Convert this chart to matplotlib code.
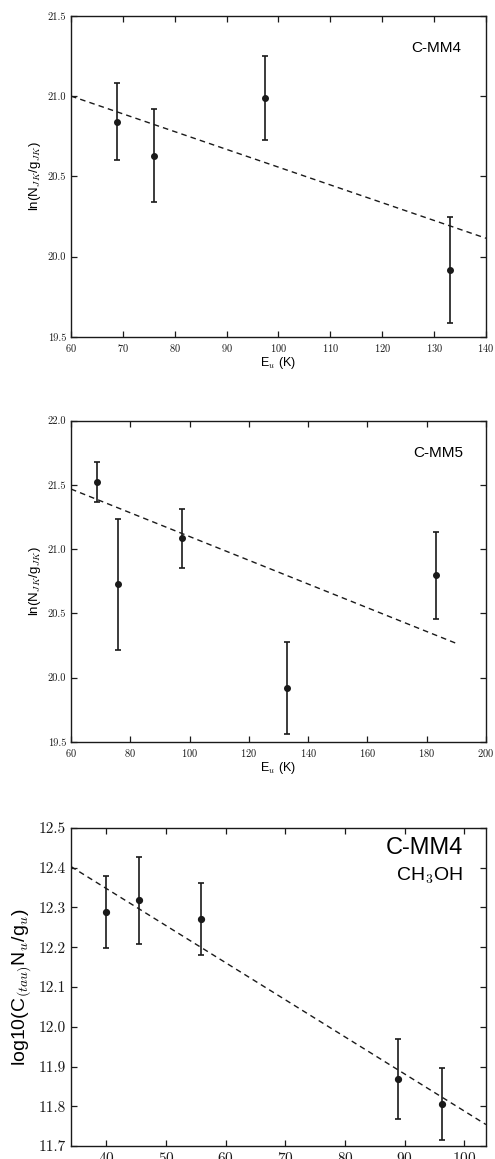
import matplotlib
matplotlib.use('Agg')
import matplotlib.pyplot as plt

plt.rcParams['font.family'] = ['Liberation Sans', 'DejaVu Sans']
plt.rcParams['mathtext.fontset'] = 'cm'
plt.rcParams['axes.formatter.use_mathtext'] = True

# panel 1: rotation diagram, C-MM4
eu_mm4 = [68.8, 76.0, 97.4, 133.1]
ln_mm4 = [20.84, 20.63, 20.987, 19.92]
err_mm4 = [0.24, 0.29, 0.26, 0.33]
fit_x_mm4 = [60, 140]
fit_y_mm4 = [21.0, 20.115]

# panel 2: C-MM5
eu_mm5 = [68.7, 75.9, 97.4, 133.0, 183.1]
ln_mm5 = [21.52, 20.725, 21.086, 19.92, 20.795]
err_mm5 = [0.155, 0.51, 0.23, 0.36, 0.34]
fit_x_mm5 = [60, 190]
fit_y_mm5 = [21.468, 20.266]

# panel 3: CH3OH, C-MM4
eu_ch3oh = [39.9, 45.5, 55.8, 88.8, 96.3]
log_ch3oh = [12.288, 12.318, 12.271, 11.869, 11.806]
err_ch3oh = [0.09, 0.11, 0.09, 0.10, 0.09]
fit_x_ch3oh = [34.1, 103.6]
fit_y_ch3oh = [12.403, 11.754]

dark = '#1a1a1a'


def style_axes(ax, ticksize):
    ax.tick_params(direction='in', top=True, right=True, length=4,
                   width=0.9, labelsize=ticksize, colors=dark)
    for lbl in ax.get_xticklabels() + ax.get_yticklabels():
        lbl.set_fontfamily('cmr10')
    for sp in ax.spines.values():
        sp.set_linewidth(1.0)
        sp.set_color(dark)


def draw(ax, x, y, err, fx, fy, ms):
    ax.errorbar(x, y, yerr=err, fmt='o', color=dark, ms=ms, elinewidth=1.2,
                capsize=2.2, capthick=1.2)
    ax.plot(fx, fy, ls='--', color=dark, lw=1.0, dashes=(4, 3))


fig = plt.figure(figsize=(4.95, 11.59), dpi=100)

ax1 = fig.add_axes([0.1434, 0.7092, 0.8384, 0.2772])
draw(ax1, eu_mm4, ln_mm4, err_mm4, fit_x_mm4, fit_y_mm4, 4)
ax1.set_xlim(60, 140)
ax1.set_ylim(19.5, 21.5)
ax1.set_xticks(range(60, 141, 10))
ax1.set_yticks([19.5, 20.0, 20.5, 21.0, 21.5])
ax1.set_yticklabels(['19.5', '20.0', '20.5', '21.0', '21.5'])
style_axes(ax1, 7.5)
ax1.set_xlabel(r'E$_u$ (K)', fontsize=9, labelpad=1)
ax1.set_ylabel(r'ln(N$_{JK}$/g$_{JK}$)', fontsize=9.5, labelpad=3)
ax1.text(0.94, 0.9, 'C-MM4', transform=ax1.transAxes, ha='right', va='center',
         fontsize=11)

ax2 = fig.add_axes([0.1434, 0.3600, 0.8384, 0.2770])
draw(ax2, eu_mm5, ln_mm5, err_mm5, fit_x_mm5, fit_y_mm5, 4)
ax2.set_xlim(60, 200)
ax2.set_ylim(19.5, 22.0)
ax2.set_xticks(range(60, 201, 20))
ax2.set_yticks([19.5, 20.0, 20.5, 21.0, 21.5, 22.0])
ax2.set_yticklabels(['19.5', '20.0', '20.5', '21.0', '21.5', '22.0'])
style_axes(ax2, 7.5)
ax2.set_xlabel(r'E$_u$ (K)', fontsize=9, labelpad=1)
ax2.set_ylabel(r'ln(N$_{JK}$/g$_{JK}$)', fontsize=9.5, labelpad=3)
ax2.text(0.945, 0.9, 'C-MM5', transform=ax2.transAxes, ha='right', va='center',
         fontsize=11)

ax3 = fig.add_axes([0.1434, 0.0112, 0.8384, 0.2744])
draw(ax3, eu_ch3oh, log_ch3oh, err_ch3oh, fit_x_ch3oh, fit_y_ch3oh, 4.2)
ax3.set_xlim(34.1, 103.6)
ax3.set_ylim(11.7, 12.5)
ax3.set_xticks(range(40, 101, 10))
ax3.set_yticks([11.7, 11.8, 11.9, 12.0, 12.1, 12.2, 12.3, 12.4, 12.5])
ax3.set_yticklabels(['11.7', '11.8', '11.9', '12.0', '12.1', '12.2', '12.3',
                     '12.4', '12.5'])
style_axes(ax3, 11)
ax3.set_ylabel(r'log10(C$_{(tau)}$N$_u$/g$_u$)', fontsize=14, labelpad=4)
ax3.text(0.945, 0.937, 'C-MM4', transform=ax3.transAxes, ha='right', va='center',
         fontsize=17)
ax3.text(0.945, 0.85, r'CH$_3$OH', transform=ax3.transAxes, ha='right',
         va='center', fontsize=14)

fig.savefig('out.png', dpi=100)
